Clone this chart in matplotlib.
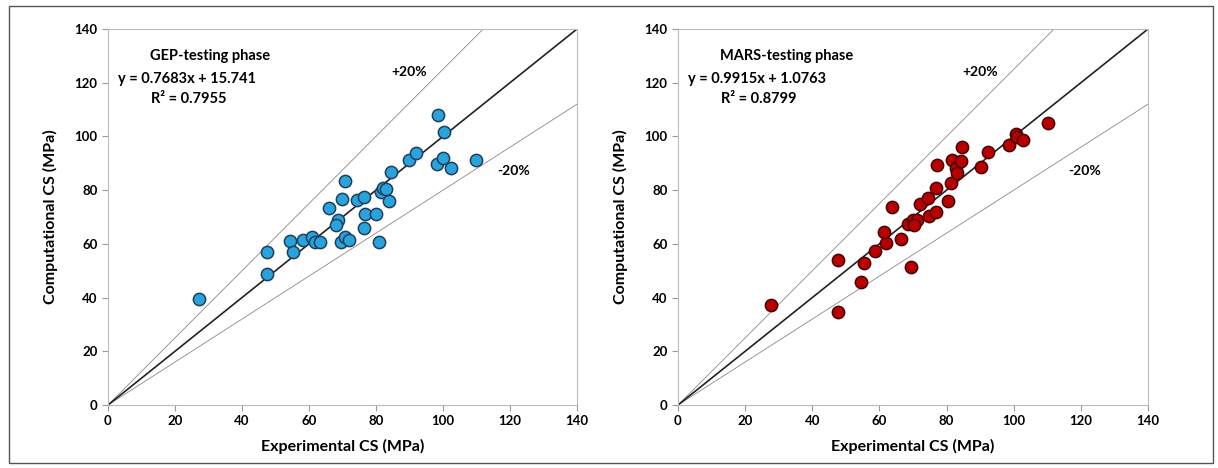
import matplotlib.pyplot as plt
import numpy as np
from matplotlib.patches import Rectangle

plt.rcParams['font.family'] = ['Lato', 'DejaVu Sans']
plt.rcParams['font.weight'] = 'bold'

# GEP testing phase (experimental, computational)
gep_x = [27.2, 47.4, 47.4, 54.3, 55.1, 58.3, 60.8, 61.8, 63.3, 66.1, 68.8, 68.2,
         69.9, 70.8, 69.7, 70.8, 72.0, 74.3, 76.4, 76.7, 79.9, 76.4, 81.0, 81.4,
         82.2, 83.0, 83.9, 84.4, 89.9, 91.9, 98.3, 99.9, 98.6, 100.4, 102.3, 109.9]
gep_y = [39.5, 57.1, 48.8, 61.2, 57.1, 61.4, 62.4, 60.8, 60.8, 73.2, 68.9, 67.0,
         76.8, 83.4, 60.8, 62.4, 61.4, 76.5, 77.3, 71.1, 71.1, 66.0, 60.6, 79.4,
         80.7, 80.3, 76.1, 86.9, 91.2, 94.0, 89.7, 92.1, 108.0, 101.8, 88.1, 91.2]

# MARS testing phase
mars_x = [27.7, 47.8, 47.6, 54.5, 55.3, 58.7, 61.9, 61.3, 66.3, 63.7, 69.4, 68.6,
          70.1, 71.1, 70.3, 72.1, 74.6, 74.9, 76.9, 76.9, 77.2, 80.3, 81.2, 81.7,
          82.7, 83.2, 84.2, 84.7, 90.3, 92.3, 98.7, 100.6, 100.9, 102.9, 110.3]
mars_y = [37.2, 54.0, 34.8, 45.9, 52.7, 57.5, 60.2, 64.5, 61.8, 73.8, 51.2, 67.4,
          68.9, 68.9, 67.0, 74.8, 77.0, 70.4, 72.0, 80.9, 89.2, 75.9, 82.5, 91.2,
          88.1, 86.2, 90.8, 95.9, 88.5, 94.3, 96.8, 100.9, 99.8, 98.7, 105.1]

ticks = [0, 20, 40, 60, 80, 100, 120, 140]

fig = plt.figure(figsize=(12.18, 4.68), dpi=100)
fig.patches.append(Rectangle((9 / 1218, 5 / 468), 1204 / 1218, 457 / 468,
                             transform=fig.transFigure, fill=False,
                             edgecolor='#555555', linewidth=1.0))

panels = [
    ([108 / 1218, 63 / 468, 469 / 1218, 376 / 468], gep_x, gep_y, '#29a3db', '#1f3f5f',
     'GEP-testing phase', 'y = 0.7683x + 15.741', 'R² = 0.7955'),
    ([678 / 1218, 63 / 468, 470 / 1218, 376 / 468], mars_x, mars_y, '#b80000', '#4a0000',
     'MARS-testing phase', 'y = 0.9915x + 1.0763', 'R² = 0.8799'),
]

for rect, xs, ys, fc, ec, title, eq, r2 in panels:
    ax = fig.add_axes(rect)
    line = np.array([0, 140])
    ax.plot(line, line, color='#222222', lw=1.2, zorder=2)
    ax.plot(line, line * 1.25, color='#888888', lw=0.6, zorder=1)
    ax.plot(line, line * 0.8, color='#888888', lw=0.6, zorder=1)
    ax.scatter(xs, ys, s=78, c=fc, edgecolors=ec, linewidths=1.1, zorder=3)
    ax.set_xlim(0, 140)
    ax.set_ylim(0, 140)
    ax.set_xticks(ticks)
    ax.set_yticks(ticks)
    ax.tick_params(labelsize=9.5, color='#999999', length=4, width=0.8)
    for s in ax.spines.values():
        s.set_color('#bbbbbb')
        s.set_linewidth(0.8)
    ax.set_xlabel('Experimental CS (MPa)', fontsize=11.5, fontweight='bold', labelpad=8)
    ax.set_ylabel('Computational CS (MPa)', fontsize=11.5, fontweight='bold', labelpad=12)
    ax.text(12.5, 130, title, fontsize=10.5, fontweight='bold', va='center')
    ax.text(3, 121.4, eq, fontsize=10.5, fontweight='bold', va='center')
    ax.text(24, 114, r2, fontsize=10.5, fontweight='bold', va='center', ha='center')
    ax.text(90, 124, '+20%', fontsize=10, fontweight='bold', va='center', ha='center')
    ax.text(121, 87, '-20%', fontsize=10, fontweight='bold', va='center', ha='center')

fig.savefig('out.png', dpi=100)
